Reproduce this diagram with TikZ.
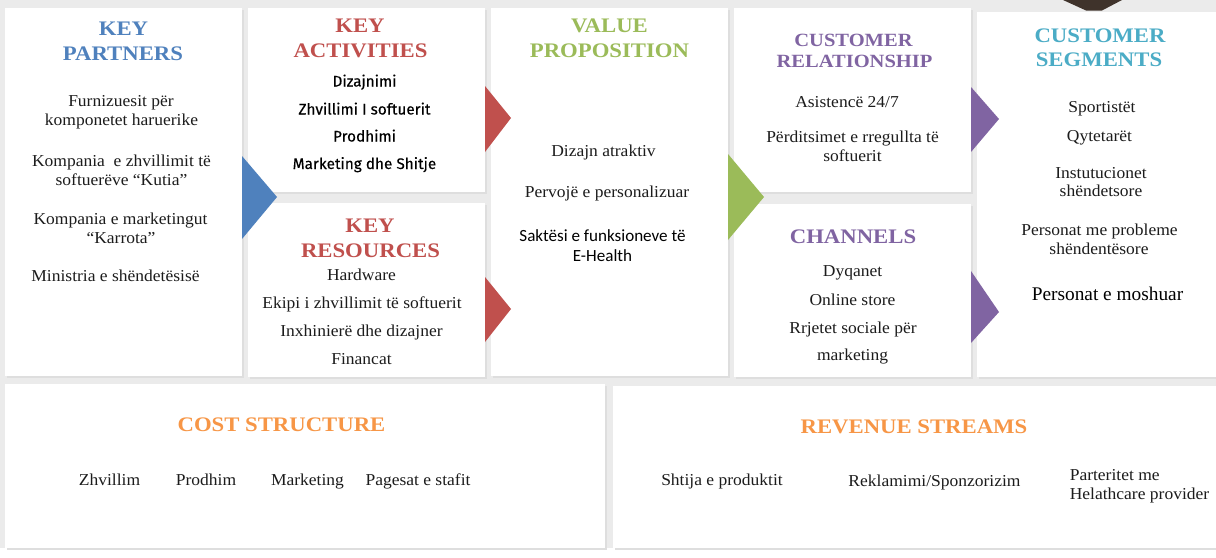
\documentclass[tikz,border=0pt]{standalone}
\usepackage{fontspec}
\setmainfont{Liberation Serif}[FakeStretch=1.05]
\newfontfamily\tfont{Liberation Serif}[FakeStretch=1.1]
\newfontfamily\dinfont{Fira Sans}[FakeBold=0.2]
\newfontfamily\calfont{Carlito}
\newfontfamily\timesfont{Liberation Serif}
\definecolor{bgc}{HTML}{EBEBEB}
\definecolor{shadowc}{HTML}{DEDEDE}
\definecolor{txt}{HTML}{1C1C1C}
\definecolor{kblue}{HTML}{4F81BD}
\definecolor{kred}{HTML}{C0504D}
\definecolor{kgreen}{HTML}{9BBB59}
\definecolor{kpurple}{HTML}{8064A2}
\definecolor{kteal}{HTML}{4BACC6}
\definecolor{korange}{HTML}{F79646}
\definecolor{darkshape}{HTML}{3F332B}
\begin{document}
\begin{tikzpicture}[x=0.75pt,y=-0.75pt,
  panel/.style={fill=white},
  pshadow/.style={fill=shadowc},
  ttl/.style={font=\tfont\bfseries\fontsize{15.5}{18}\selectfont, anchor=base, inner sep=0pt},
  ttlsmall/.style={font=\tfont\bfseries\fontsize{14}{16}\selectfont, anchor=base, inner sep=0pt},
  body/.style={font=\fontsize{12.5}{15}\selectfont, text=txt, anchor=base, inner sep=0pt},
  din/.style={font=\dinfont\fontsize{11.5}{14}\selectfont, text=black, anchor=base, inner sep=0pt},
  cal/.style={font=\calfont\fontsize{12.8}{15}\selectfont, text=black, anchor=base, inner sep=0pt},
  tms/.style={font=\timesfont\fontsize{14.5}{17}\selectfont, text=black, anchor=base, inner sep=0pt}]
\useasboundingbox (0,0) rectangle (1216,557);
\fill[white] (0,0) rectangle (1216,557);
\fill[bgc] (0,0) rectangle (1216,548);
% dark shape at the top edge
\fill[darkshape] (1063,0) -- (1122,0) -- (1102,10.5) -- (1086,10.5) -- cycle;
% panels
\foreach \a/\b/\c/\d in {5/8/242/376, 248/8/485/192, 248/203/485/377, 491/8/728/376,
  734/8/971/192, 734/204/971/377, 977/12/1216/377, 5/384/605/548, 613/386/1216/548}{
  \fill[pshadow] (\a+1.5,\b+1.5) rectangle (\c+1.5,\d+1.5);
  \fill[panel] (\a,\b) rectangle (\c,\d);
}
% arrows
\fill[kblue] (242,156) -- (277,197) -- (242,239) -- cycle;
\fill[kred] (485,86) -- (511,118) -- (485,152) -- cycle;
\fill[kred] (485,277) -- (511,309) -- (485,342) -- cycle;
\fill[kgreen] (728,154) -- (764,197) -- (728,240) -- cycle;
\fill[kpurple] (971,87) -- (999,119) -- (971,152) -- cycle;
\fill[kpurple] (971,271) -- (999,312) -- (971,343) -- cycle;

% Key partners
\node[ttl, text=kblue] (kpt1) at (123.5,35) {KEY};
\node[ttl, text=kblue] (kpt2) at (123,60) {PARTNERS};
\node[body] (kp1) at (121,106) {Furnizuesit për};
\node[body] (kp2) at (121.5,125) {komponetet haruerike};
\node[body] (kp3) at (121.5,166) {Kompania\ \ e zhvillimit të};
\node[body] (kp4) at (121.5,185) {softuerëve “Kutia”};
\node[body] (kp5) at (120.5,224) {Kompania e marketingut};
\node[body] (kp6) at (121,243) {“Karrota”};
\node[body] (kp7) at (115.5,281) {Ministria e shëndetësisë};

% Key activities
\node[ttl, text=kred] (kat1) at (360,32) {KEY};
\node[ttl, text=kred] (kat2) at (360.5,57) {ACTIVITIES};
\node[din] (ka1) at (364.5,86.5) {Dizajnimi};
\node[din] (ka2) at (364.5,114.5) {Zhvillimi I softuerit};
\node[din] (ka3) at (364.5,141.5) {Prodhimi};
\node[din] (ka4) at (364.5,169) {Marketing dhe Shitje};

% Key resources
\node[ttl, text=kred] (krt1) at (370,232) {KEY};
\node[ttl, text=kred] (krt2) at (370.5,257) {RESOURCES};
\node[body] (kr1) at (361.5,280) {Hardware};
\node[body] (kr2) at (362,308) {Ekipi i zhvillimit të softuerit};
\node[body] (kr3) at (361.5,336) {Inxhinierë dhe dizajner};
\node[body] (kr4) at (361.5,364) {Financat};

% Value proposition
\node[ttl, text=kgreen] (vpt1) at (609.5,32) {VALUE};
\node[ttl, text=kgreen] (vpt2) at (609.5,57) {PROPOSITION};
\node[body] (vp1) at (603.5,156.5) {Dizajn atraktiv};
\node[body] (vp2) at (607,197) {Pervojë e personalizuar};
\node[cal] (vp3) at (602.5,241.5) {Saktësi e funksioneve të};
\node[cal] (vp4) at (602.5,261.5) {E-Health};

% Customer relationship
\node[ttlsmall, text=kpurple] (crt1) at (853.5,46) {CUSTOMER};
\node[ttlsmall, text=kpurple] (crt2) at (854.5,67) {RELATIONSHIP};
\node[body] (cr1) at (847,107) {Asistencë 24/7};
\node[body] (cr2) at (852.5,142.5) {Përditsimet e rregullta të};
\node[body] (cr3) at (852.5,161.5) {softuerit};

% Channels
\node[ttl, text=kpurple] (cht) at (853,243) {CHANNELS};
\node[body] (ch1) at (852.5,276) {Dyqanet};
\node[body] (ch2) at (852.5,305) {Online store};
\node[body] (ch3) at (853,333) {Rrjetet sociale për};
\node[body] (ch4) at (852.5,360) {marketing};

% Customer segments
\node[ttl, text=kteal] (cst1) at (1100,42) {CUSTOMER};
\node[ttl, text=kteal] (cst2) at (1099,66) {SEGMENTS};
\node[body] (cs1) at (1102,112.5) {Sportistët};
\node[body] (cs2) at (1099.5,141) {Qytetarët};
\node[body] (cs3) at (1101,178) {Instutucionet};
\node[body] (cs4) at (1101,196) {shëndetsore};
\node[body] (cs5) at (1099.5,235.5) {Personat me probleme};
\node[body] (cs6) at (1099,254) {shëndentësore};
\node[tms] (cs7) at (1107.5,300) {Personat e moshuar};

% Cost structure
\node[ttl, text=korange] (cost) at (281.5,431) {COST STRUCTURE};
\node[body] (c1) at (109.5,485) {Zhvillim};
\node[body] (c2) at (206,485) {Prodhim};
\node[body] (c3) at (307.5,485) {Marketing};
\node[body] (c4) at (418,485) {Pagesat e stafit};

% Revenue streams
\node[ttl, text=korange] (rev) at (914,433) {REVENUE STREAMS};
\node[body] (r1) at (722,485) {Shtija e produktit};
\node[body] (r2) at (934.5,486) {Reklamimi/Sponzorizim};
\node[body, anchor=base west] (r3) at (1069.5,480) {Parteritet me};
\node[body, anchor=base west] (r4) at (1069.5,499) {Helathcare provider};
\end{tikzpicture}
\end{document}
